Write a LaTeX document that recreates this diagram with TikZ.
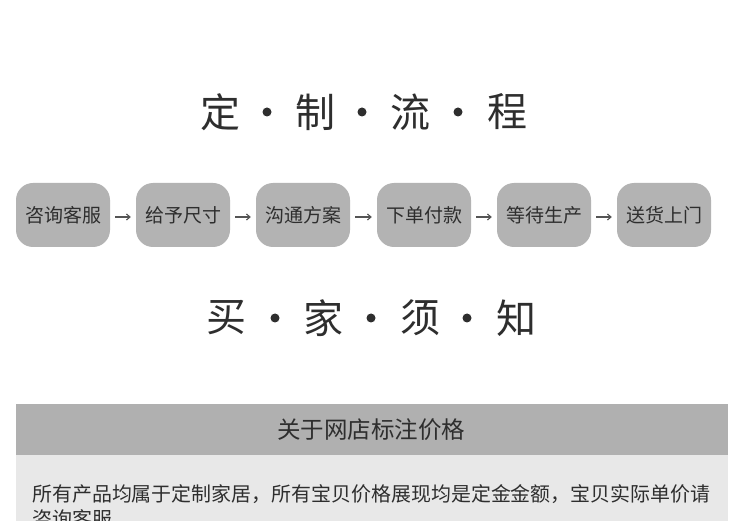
\documentclass[tikz,border=0pt]{standalone}
\usepackage{fontspec}
\setmainfont{Noto Sans CJK SC}
\usetikzlibrary{arrows.meta}
\definecolor{boxgray}{HTML}{B3B3B3}
\definecolor{bandgray}{HTML}{B0B0B0}
\definecolor{lightgray2}{HTML}{E8E8E8}
\definecolor{txt}{HTML}{2E2E2E}
\definecolor{arrgray}{HTML}{555555}
\tikzset{
  stepbox/.style={fill=boxgray, rounded corners=17pt, minimum width=94pt, minimum height=64pt, inner sep=0pt, text=txt, font=\fontsize{19}{19}\selectfont},
  flowarrow/.style={draw=arrgray, line width=1.1pt, -{Straight Barb[length=3.5pt,width=6pt]}, shorten <=5pt, shorten >=5pt},
  bigchar/.style={text=txt, font=\fontsize{40}{40}\selectfont, inner sep=0pt},
  dotmark/.style={circle, fill=txt, minimum size=9pt, inner sep=0pt},
}
\begin{document}
\begin{tikzpicture}[x=1pt,y=1pt]
\useasboundingbox (0,0) rectangle (750,-521);
\fill[white] (0,0) rectangle (750,-521);
% Title 1
\node[bigchar] (t1) at (220,-112) {定};
\node[dotmark] (d1) at (267,-112) {};
\node[bigchar] (t2) at (315,-112) {制};
\node[dotmark] (d2) at (362,-112) {};
\node[bigchar] (t3) at (410,-112) {流};
\node[dotmark] (d3) at (458,-112) {};
\node[bigchar] (t4) at (507,-112) {程};
% Flow
\node[stepbox] (b1) at (63,-215) {咨询客服};
\node[stepbox] (b2) at (183,-215) {给予尺寸};
\node[stepbox] (b3) at (303,-215) {沟通方案};
\node[stepbox] (b4) at (424,-215) {下单付款};
\node[stepbox] (b5) at (544,-215) {等待生产};
\node[stepbox] (b6) at (664,-215) {送货上门};
\draw[flowarrow] ([yshift=-2pt]b1.east) -- ([yshift=-2pt]b2.west);
\draw[flowarrow] ([yshift=-2pt]b2.east) -- ([yshift=-2pt]b3.west);
\draw[flowarrow] ([yshift=-2pt]b3.east) -- ([yshift=-2pt]b4.west);
\draw[flowarrow] ([yshift=-2pt]b4.east) -- ([yshift=-2pt]b5.west);
\draw[flowarrow] ([yshift=-2pt]b5.east) -- ([yshift=-2pt]b6.west);
% Title 2
\node[bigchar] (s1) at (226,-318) {买};
\node[dotmark] (e1) at (275,-318) {};
\node[bigchar] (s2) at (323,-318) {家};
\node[dotmark] (e2) at (371,-318) {};
\node[bigchar] (s3) at (420,-318) {须};
\node[dotmark] (e3) at (467,-318) {};
\node[bigchar] (s4) at (516,-318) {知};
% Notice panel
\fill[bandgray] (16,-404) rectangle (728,-455);
\fill[lightgray2] (16,-455) rectangle (728,-521);
\node[text=txt, font=\fontsize{23.5}{23.5}\selectfont, inner sep=0pt] (hdr) at (371,-430) {关于网店标注价格};
\begin{scope}
\clip (16,-455) rectangle (728,-521);
\node[text=txt, font=\fontsize{19.95}{19.95}\selectfont, inner sep=0pt, anchor=west] (l1) at (32,-494) {所有产品均属于定制家居，所有宝贝价格展现均是定金金额，宝贝实际单价请};
\node[text=txt, font=\fontsize{19.95}{19.95}\selectfont, inner sep=0pt, anchor=west] (l2) at (32,-519) {咨询客服。};
\end{scope}
\end{tikzpicture}
\end{document}
